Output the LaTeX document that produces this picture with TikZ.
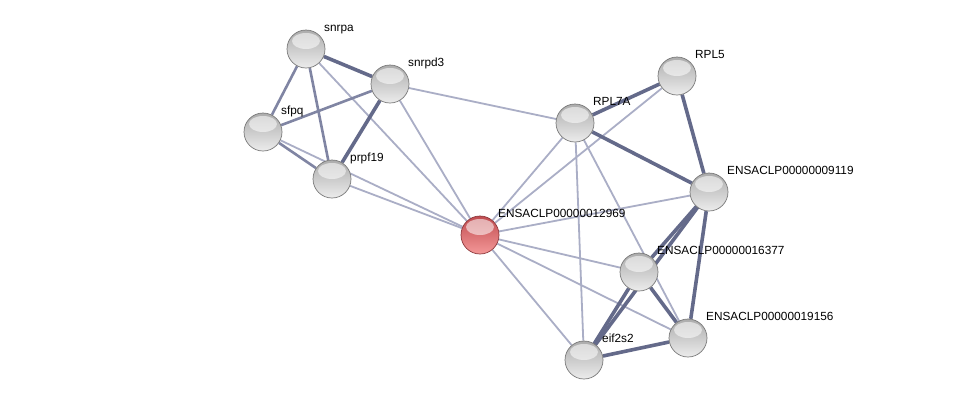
\documentclass[tikz,border=0pt]{standalone}
\usepackage{fontspec}
\setmainfont{Liberation Sans}
\usetikzlibrary{backgrounds}
\definecolor{edgelight}{RGB}{170,174,198}
\definecolor{edgemid}{RGB}{128,133,163}
\definecolor{edgedark}{RGB}{100,106,138}
\definecolor{balltop}{RGB}{172,172,172}
\definecolor{ballbot}{RGB}{236,236,236}
\definecolor{ballrim}{RGB}{120,120,120}
\definecolor{querytop}{RGB}{192,76,80}
\definecolor{querybot}{RGB}{244,152,152}
\definecolor{queryrim}{RGB}{140,55,58}
\tikzset{
  prot/.style={circle,minimum size=38pt,inner sep=0pt,draw=ballrim,line width=0.7pt,
    top color=balltop,bottom color=ballbot,
    path picture={\fill[white,opacity=0.55] ([yshift=-11pt]path picture bounding box.north)
      ellipse [x radius=14pt,y radius=8pt];}},
  query/.style={prot,draw=queryrim,top color=querytop,bottom color=querybot},
  lbl/.style={font=\fontsize{11.8}{14}\selectfont,inner sep=0pt,anchor=base west},
  weak/.style={draw=edgelight,line width=1.8pt},
  medium/.style={draw=edgemid,line width=2.6pt},
  strong/.style={draw=edgedark,line width=3.6pt}
}
\begin{document}
\begin{tikzpicture}[x=1pt,y=-1pt,line cap=round,line join=round]
  \node[prot] (snrpa) at (306,49) {};
  \node[prot] (snrpd3) at (390,84) {};
  \node[prot] (sfpq) at (263,132) {};
  \node[prot] (prpf19) at (332,179) {};
  \node[query] (e12969) at (480,235) {};
  \node[prot] (rpl7a) at (575,123) {};
  \node[prot] (rpl5) at (677,76) {};
  \node[prot] (e9119) at (709,192) {};
  \node[prot] (e16377) at (639,272) {};
  \node[prot] (e19156) at (688,338) {};
  \node[prot] (eif2s2) at (584,360) {};
  \node[lbl] (snrpa-t) at ([shift={(18,-18)}]snrpa.center) {snrpa};
  \node[lbl] (snrpd3-t) at ([shift={(18,-18)}]snrpd3.center) {snrpd3};
  \node[lbl] (sfpq-t) at ([shift={(18,-18)}]sfpq.center) {sfpq};
  \node[lbl] (prpf19-t) at ([shift={(18,-18)}]prpf19.center) {prpf19};
  \node[lbl] (e12969-t) at ([shift={(18,-18)}]e12969.center) {ENSACLP00000012969};
  \node[lbl] (rpl7a-t) at ([shift={(18,-18)}]rpl7a.center) {RPL7A};
  \node[lbl] (rpl5-t) at ([shift={(18,-18)}]rpl5.center) {RPL5};
  \node[lbl] (e9119-t) at ([shift={(18,-18)}]e9119.center) {ENSACLP00000009119};
  \node[lbl] (e16377-t) at ([shift={(18,-18)}]e16377.center) {ENSACLP00000016377};
  \node[lbl] (e19156-t) at ([shift={(18,-18)}]e19156.center) {ENSACLP00000019156};
  \node[lbl] (eif2s2-t) at ([shift={(18,-18)}]eif2s2.center) {eif2s2};
  \begin{scope}[on background layer]
    \fill[white] (0,0) rectangle (976,405);
    \path[weak] (e12969) -- (snrpa);
    \path[weak] (e12969) -- (snrpd3);
    \path[weak] (e12969) -- (sfpq);
    \path[weak] (e12969) -- (prpf19);
    \path[weak] (e12969) -- (rpl7a);
    \path[weak] (e12969) -- (rpl5);
    \path[weak] (e12969) -- (e9119);
    \path[weak] (e12969) -- (e16377);
    \path[weak] (e12969) -- (e19156);
    \path[weak] (e12969) -- (eif2s2);
    \path[weak] (snrpd3) -- (rpl7a);
    \path[weak] (rpl7a) -- (eif2s2);
    \path[weak] (rpl7a.center) -- (e19156.center);
    \path[medium] (snrpa) -- (sfpq);
    \path[medium] (sfpq) -- (snrpd3);
    \path[medium] (snrpa) -- (prpf19);
    \path[medium] (sfpq) -- (prpf19);
    \path[strong] (snrpa) -- (snrpd3);
    \path[strong] (snrpd3) -- (prpf19);
    \path[strong] (rpl7a) -- (rpl5);
    \path[strong] (rpl7a) -- (e9119);
    \path[strong] (rpl5) -- (e9119);
    \path[strong] (e9119) -- (e16377);
    \path[strong] (e9119.center) -- (eif2s2.center);
    \path[strong] (e9119) -- (e19156);
    \path[strong] (e16377) -- (eif2s2);
    \path[strong] (e16377) -- (e19156);
    \path[strong] (e19156) -- (eif2s2);
  \end{scope}
  \useasboundingbox (0,0) rectangle (976,405);
\end{tikzpicture}
\end{document}
